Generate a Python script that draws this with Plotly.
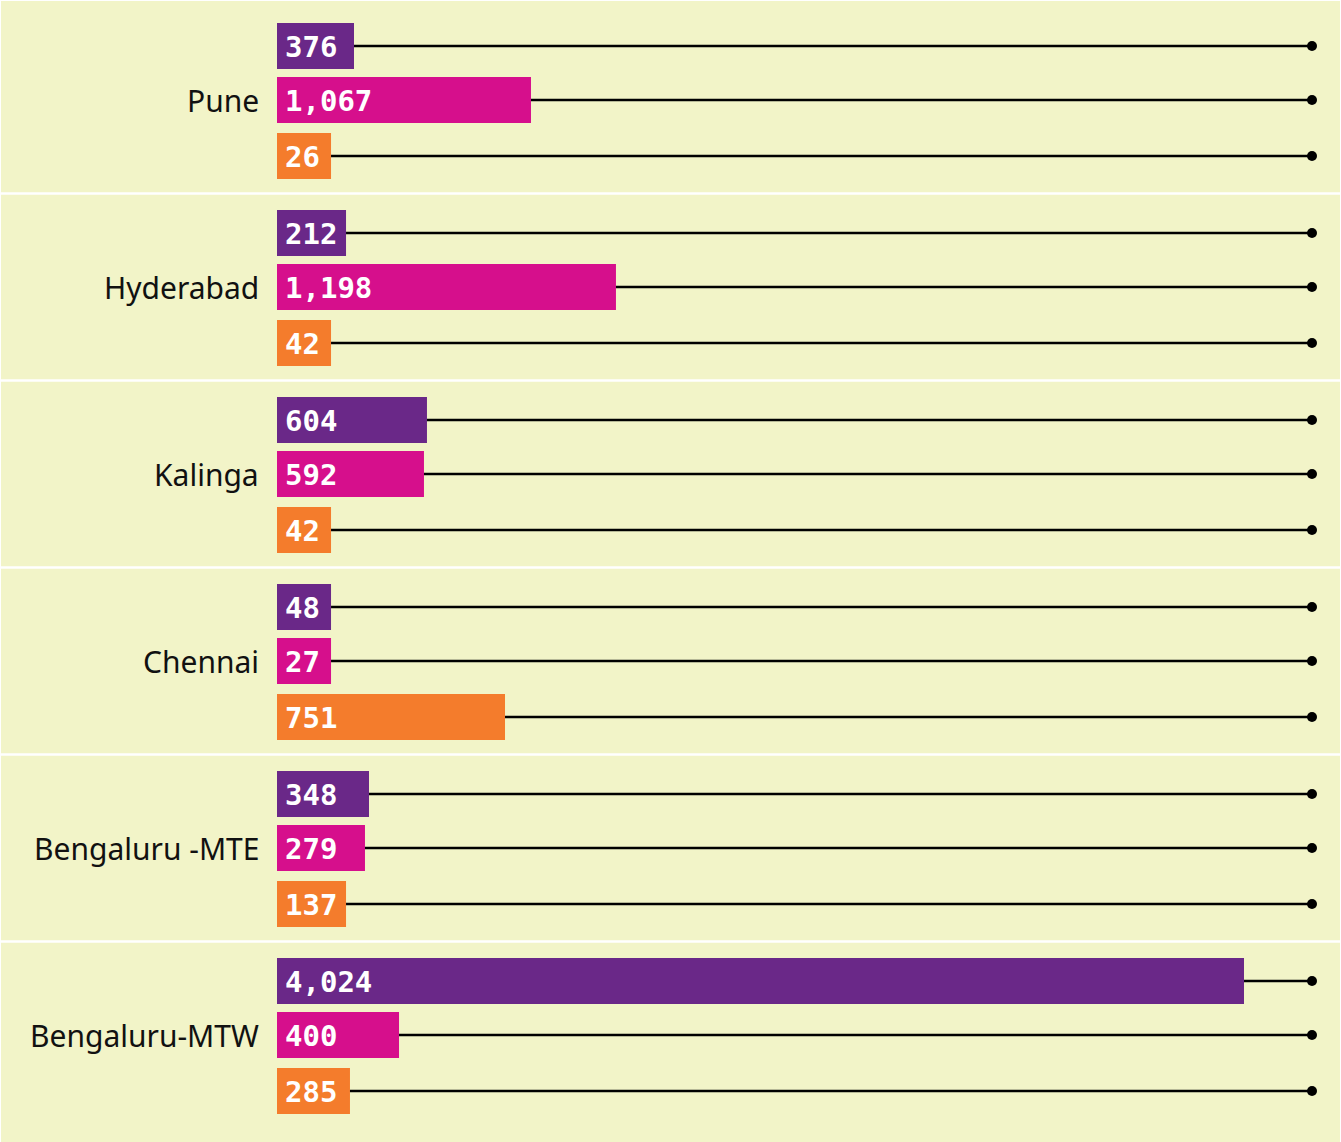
import plotly.graph_objects as go

# ---------------- data ----------------
categories = ["Pune", "Hyderabad", "Kalinga", "Chennai", "Bengaluru -MTE", "Bengaluru-MTW"]
series_names = ["Series A", "Series B", "Series C"]
series_colors = ["#6a2888", "#d60f8c", "#f47c2c"]

# labelled values (as printed in the bars)
values_a = [376, 212, 604, 48, 348, 4024]
values_b = [1067, 1198, 592, 27, 279, 400]
values_c = [26, 42, 42, 751, 137, 285]

# drawn bar length, as % of the full track (track end = dot = 100)
bar_a = [7.44, 6.67, 14.49, 5.22, 8.89, 93.43]
bar_b = [24.54, 32.75, 14.20, 5.22, 8.50, 11.79]
bar_c = [5.22, 5.22, 5.22, 22.03, 6.67, 7.05]

TRACK_MAX = 100

# ---------------- layout constants (pixels) ----------------
W, H = 1341, 1142
BAR_X0_PX = 277
TRACK_END_PX = 1312
PPU = (TRACK_END_PX - BAR_X0_PX) / TRACK_MAX      # px per x-unit
GROUP_PITCH = 187
ROW_OFFSETS = [0, 54, 110]
TOP_PX = 46                                       # first bar centre from top
BAR_H = 46

BG = "#f2f4c8"

values = [values_a, values_b, values_c]
bars = [bar_a, bar_b, bar_c]

fig = go.Figure()

def ypos(g, r):
    return g * GROUP_PITCH + ROW_OFFSETS[r]

# bars
for r in range(3):
    fig.add_trace(go.Bar(
        orientation="h",
        x=bars[r],
        y=[ypos(g, r) for g in range(len(categories))],
        base=0,
        width=BAR_H,
        marker=dict(color=series_colors[r], line=dict(width=0)),
        name=series_names[r],
        hoverinfo="skip",
        showlegend=False,
    ))

# connector lines from bar end to track end
lx, ly, mx, my = [], [], [], []
for r in range(3):
    for g in range(len(categories)):
        y = ypos(g, r)
        lx += [bars[r][g], TRACK_MAX, None]
        ly += [y, y, None]
        mx.append(TRACK_MAX)
        my.append(y)
fig.add_trace(go.Scatter(x=lx, y=ly, mode="lines",
                         line=dict(color="#000000", width=2.5),
                         hoverinfo="skip", showlegend=False))
fig.add_trace(go.Scatter(x=mx, y=my, mode="markers",
                         marker=dict(color="#000000", size=10),
                         hoverinfo="skip", showlegend=False))

annotations = []
# value labels inside bars
for r in range(3):
    for g in range(len(categories)):
        annotations.append(dict(
            x=0, y=ypos(g, r), xref="x", yref="y",
            text=f"{values[r][g]:,}", showarrow=False,
            xanchor="left", yanchor="middle", xshift=6, yshift=-1,
            font=dict(family="DejaVu Sans Mono", size=29, color="#ffffff",
                      weight="bold"),
        ))
# group labels
for g, cat in enumerate(categories):
    annotations.append(dict(
        x=0, y=ypos(g, 1), xref="x", yref="y",
        text=cat, showarrow=False,
        xanchor="right", yanchor="middle", xshift=-16, yshift=0,
        font=dict(family="Noto Sans", size=30, color="#111111"),
    ))

# separators
shapes = []
for g in range(len(categories) - 1):
    ysep = g * GROUP_PITCH + 147.5
    shapes.append(dict(type="line", xref="paper", yref="y",
                       x0=0, x1=1, y0=ysep, y1=ysep,
                       line=dict(color="#ffffff", width=2.5), layer="below"))
# thin white frame (top / left / right)
shapes.append(dict(type="line", xref="paper", yref="paper", x0=0, x1=1, y0=1, y1=1,
                   line=dict(color="#ffffff", width=2), layer="below"))
shapes.append(dict(type="line", xref="paper", yref="paper", x0=0, x1=0, y0=0, y1=1,
                   line=dict(color="#ffffff", width=2), layer="below"))
shapes.append(dict(type="line", xref="paper", yref="paper", x0=1, x1=1, y0=0, y1=1,
                   line=dict(color="#ffffff", width=2), layer="below"))

x_min = -BAR_X0_PX / PPU
x_max = (W - BAR_X0_PX) / PPU
y_top = -TOP_PX
y_bot = H - TOP_PX

fig.update_layout(
    width=W, height=H,
    margin=dict(l=0, r=0, t=0, b=0),
    paper_bgcolor=BG, plot_bgcolor=BG,
    barmode="overlay",
    xaxis=dict(range=[x_min, x_max], visible=False, fixedrange=True),
    yaxis=dict(range=[y_bot, y_top], visible=False, fixedrange=True),
    annotations=annotations,
    shapes=shapes,
    showlegend=False,
)

fig.write_html("out.html", config={"displayModeBar": False},
               post_script="document.body.style.margin='0';document.body.style.overflow='hidden';")
